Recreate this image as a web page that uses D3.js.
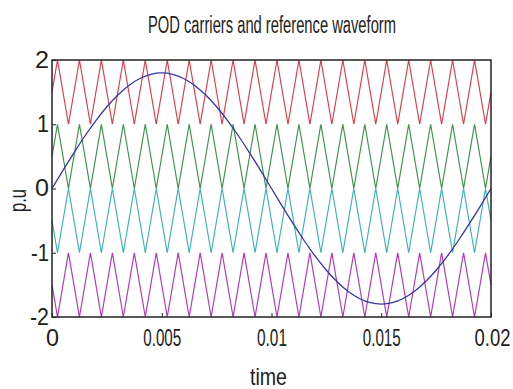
<!DOCTYPE html>
<html>
<head>
<meta charset="utf-8">
<script src="https://cdn.jsdelivr.net/npm/d3@7"></script>
<style>
  body { margin: 0; background: #fff; }
  text { font-family: "Liberation Sans", "DejaVu Sans", sans-serif; fill: #222; }
</style>
</head>
<body>
<svg id="chart" width="513" height="389"></svg>
<script>
// carrier vertex times (s)
const carrierT = [0,0.00025,0.00075,0.00125,0.00175,0.00225,0.00275,0.00325,0.00375,0.00425,0.00475,
  0.00525,0.00575,0.00625,0.00675,0.00725,0.00775,0.00825,0.00875,0.00925,0.00975,
  0.01025,0.01075,0.01125,0.01175,0.01225,0.01275,0.01325,0.01375,0.01425,0.01475,
  0.01525,0.01575,0.01625,0.01675,0.01725,0.01775,0.01825,0.01875,0.01925,0.01975,0.02];

const carrier1 = [1.5,2,1,2,1,2,1,2,1,2,1,2,1,2,1,2,1,2,1,2,1,2,1,2,1,2,1,2,1,2,1,2,1,2,1,2,1,2,1,2,1,1.5];
const carrier2 = [0.5,1,0,1,0,1,0,1,0,1,0,1,0,1,0,1,0,1,0,1,0,1,0,1,0,1,0,1,0,1,0,1,0,1,0,1,0,1,0,1,0,0.5];
const carrier3 = [-0.5,-1,0,-1,0,-1,0,-1,0,-1,0,-1,0,-1,0,-1,0,-1,0,-1,0,-1,0,-1,0,-1,0,-1,0,-1,0,-1,0,-1,0,-1,0,-1,0,-1,0,-0.5];
const carrier4 = [-1.5,-2,-1,-2,-1,-2,-1,-2,-1,-2,-1,-2,-1,-2,-1,-2,-1,-2,-1,-2,-1,-2,-1,-2,-1,-2,-1,-2,-1,-2,-1,-2,-1,-2,-1,-2,-1,-2,-1,-2,-1,-1.5];

// reference waveform samples
const refT = [0,0.0005,0.001,0.0015,0.002,0.0025,0.003,0.0035,0.004,0.0045,0.005,
  0.0055,0.006,0.0065,0.007,0.0075,0.008,0.0085,0.009,0.0095,0.01,
  0.0105,0.011,0.0115,0.012,0.0125,0.013,0.0135,0.014,0.0145,0.015,
  0.0155,0.016,0.0165,0.017,0.0175,0.018,0.0185,0.019,0.0195,0.02];
const refV = [0,0.282,0.556,0.817,1.058,1.273,1.456,1.604,1.712,1.778,1.8,
  1.778,1.712,1.604,1.456,1.273,1.058,0.817,0.556,0.282,0,
  -0.282,-0.556,-0.817,-1.058,-1.273,-1.456,-1.604,-1.712,-1.778,-1.8,
  -1.778,-1.712,-1.604,-1.456,-1.273,-1.058,-0.817,-0.556,-0.282,0];

const xTicks = [0, 0.005, 0.01, 0.015, 0.02];
const xTickLabels = ["0", "0.005", "0.01", "0.015", "0.02"];
const yTicks = [-2, -1, 0, 1, 2];
const yTickLabels = ["-2", "-1", "0", "1", "2"];

const svg = d3.select("#chart");
const margin = {left: 52, right: 491, top: 60, bottom: 317};

const x = d3.scaleLinear().domain([0, 0.02]).range([margin.left, margin.right]);
const y = d3.scaleLinear().domain([-2, 2]).range([margin.bottom, margin.top]);

// carriers + reference
const series = [
  {v: carrier1, c: "#d9424e"},
  {v: carrier2, c: "#3f9450"},
  {v: carrier3, c: "#3fb4b4"},
  {v: carrier4, c: "#b43cb8"}
];
const line = d3.line().x(d => x(d[0])).y(d => y(d[1]));

series.forEach(s => {
  svg.append("path")
    .attr("d", line(carrierT.map((t, i) => [t, s.v[i]])))
    .attr("fill", "none")
    .attr("stroke", s.c)
    .attr("stroke-width", 1.2);
});

svg.append("path")
  .attr("d", line.curve(d3.curveNatural)(refT.map((t, i) => [t, refV[i]])))
  .attr("fill", "none")
  .attr("stroke", "#3436a8")
  .attr("stroke-width", 1.3);

// axes (ticks inward, MATLAB style)
const gx = svg.append("g")
  .attr("transform", "translate(0," + margin.bottom + ")")
  .call(d3.axisBottom(x).tickValues(xTicks).tickSize(-4).tickPadding(12)
    .tickFormat((d, i) => xTickLabels[i]));
const gy = svg.append("g")
  .attr("transform", "translate(" + margin.left + ",0)")
  .call(d3.axisLeft(y).tickValues(yTicks).tickSize(-4).tickPadding(3)
    .tickFormat((d, i) => yTickLabels[i]));

[gx, gy].forEach(g => {
  g.select(".domain").remove();
  g.selectAll(".tick line").attr("stroke", "#222");
  g.selectAll("text").attr("font-family", null).attr("fill", "#222");
});
gx.selectAll("text").style("font-size", "24px").each(function(d, i) {
  const w = [13, 38, 30, 38, 36][i];
  d3.select(this).attr("textLength", w).attr("lengthAdjust", "spacingAndGlyphs");
});
// last label right-aligned so it stays inside the page
gx.selectAll(".tick").filter((d, i) => i === 4).select("text")
  .attr("text-anchor", "end").attr("x", 19);
gy.selectAll("text").style("font-size", "23px").each(function(d, i) {
  const w = [19, 18, 14, 12, 14][i];
  d3.select(this).attr("textLength", w).attr("lengthAdjust", "spacingAndGlyphs");
});

// box
svg.append("rect")
  .attr("x", margin.left).attr("y", margin.top)
  .attr("width", margin.right - margin.left).attr("height", margin.bottom - margin.top)
  .attr("fill", "none").attr("stroke", "#222").attr("stroke-width", 1.5);

// labels
svg.append("text")
  .attr("x", 148).attr("y", 33)
  .attr("textLength", 248).attr("lengthAdjust", "spacingAndGlyphs")
  .style("font-size", "23px")
  .text("POD carriers and reference waveform");

svg.append("text")
  .attr("x", 250).attr("y", 385)
  .attr("textLength", 37).attr("lengthAdjust", "spacingAndGlyphs")
  .style("font-size", "24px")
  .text("time");

svg.append("text")
  .attr("transform", "translate(26,212)rotate(-90)")
  .attr("textLength", 23).attr("lengthAdjust", "spacingAndGlyphs")
  .style("font-size", "24px")
  .text("p.u");
</script>
</body>
</html>
